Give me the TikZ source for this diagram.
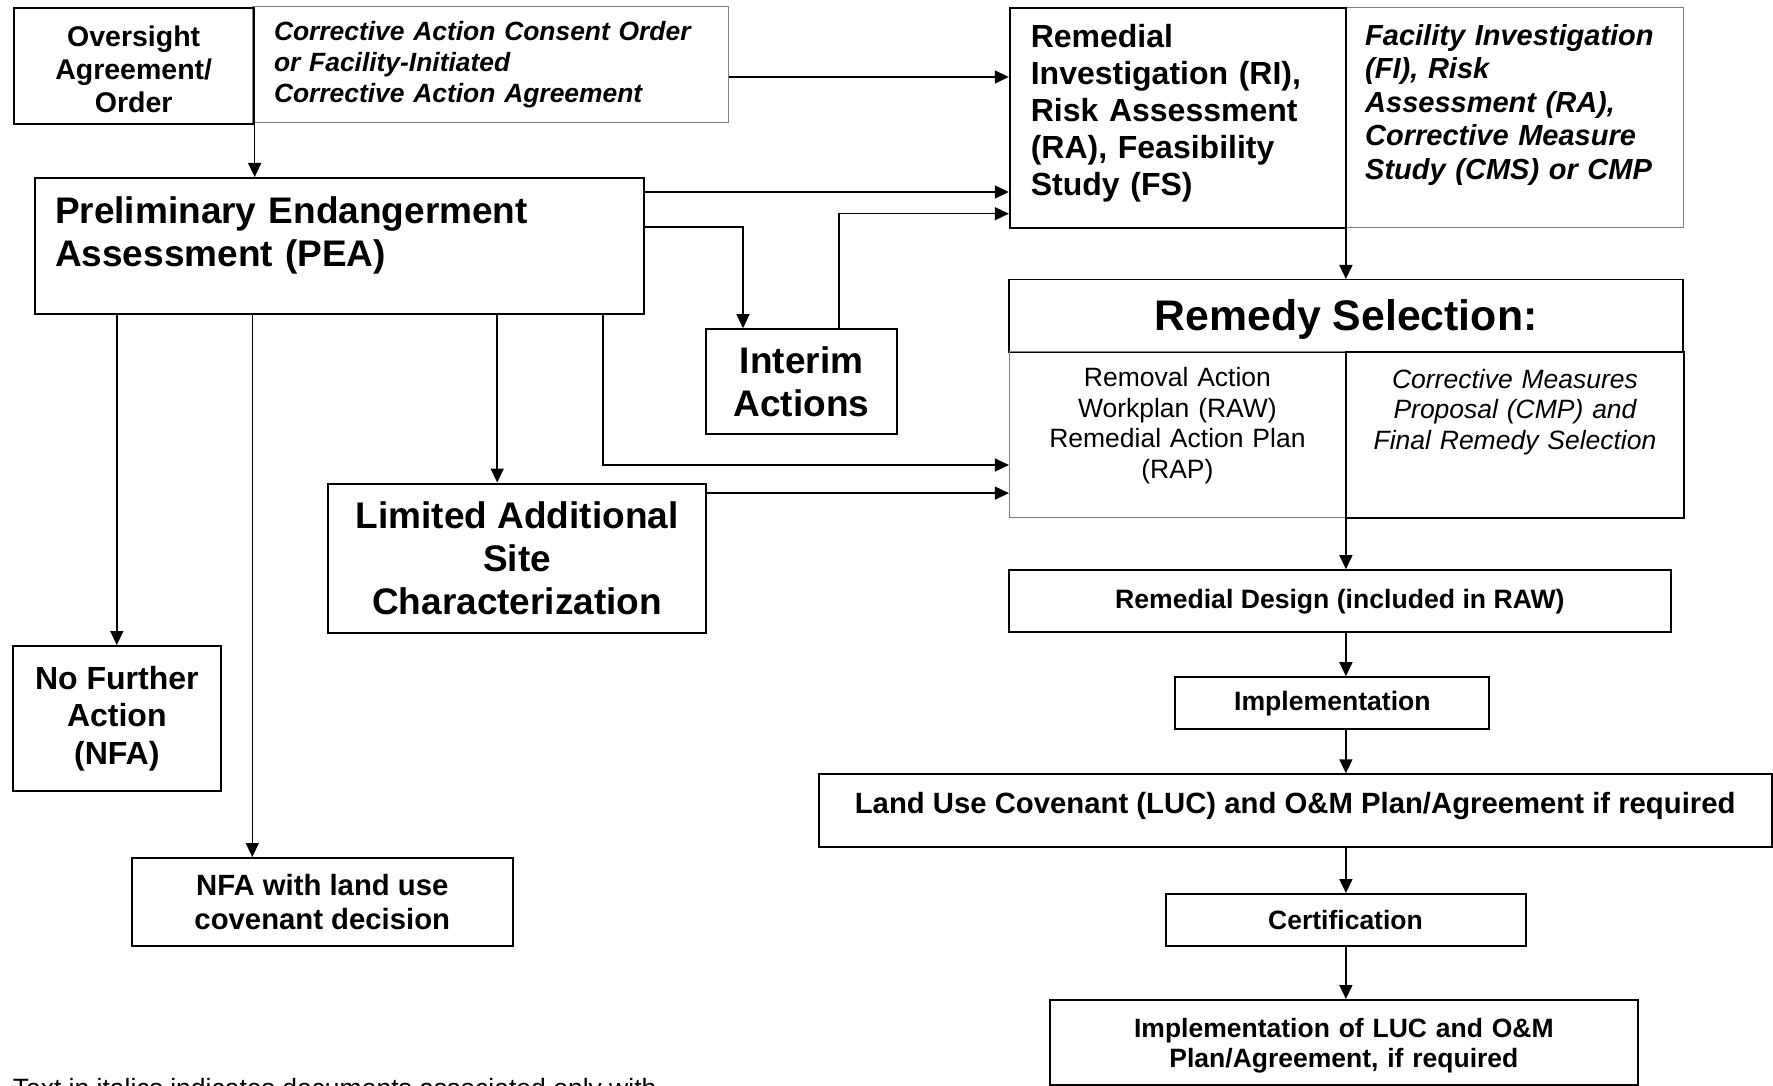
\documentclass[tikz,border=0pt]{standalone}
\usepackage{fontspec}
\setmainfont{Liberation Sans}
\usetikzlibrary{arrows.meta}
\newcommand{\fsz}[2]{\fontsize{#1}{#2}\selectfont}

\tikzset{
  box/.style={draw, line width=2pt, inner sep=0pt, align=center},
  docbox/.style={draw=black!50, line width=1pt, inner sep=0pt},
  arr/.style={line width=1.5pt, -{Triangle[length=14pt,width=13pt]}},
}

\begin{document}
\begin{tikzpicture}[x=1pt, y=-1pt]
  \useasboundingbox[fill=white] (0,0) rectangle (1773,1086);

  % top row
  \node[docbox, minimum width=476pt, minimum height=116pt, text width=432pt, inner xsep=22pt, align=left, font=\bfseries\itshape\fsz{26.4}{31}] (order) at (490,65) {Corrective Action Consent Order\\or Facility-Initiated\\Corrective Action Agreement};
  \node[box, anchor=north west, text width=230pt, inner xsep=5pt, text height=39pt, text depth=77pt, font=\bfseries\fsz{28.5}{33}] (over) at (12.7,6.7) {Oversight\\Agreement/\\Order};

  \node[docbox, anchor=north west, text width=298pt, inner xsep=20pt, align=left, text height=38pt, text depth=182pt, font=\bfseries\itshape\fsz{29}{33.6}] (fi) at (1344.7,6.7) {Facility Investigation\\(FI), Risk\\Assessment (RA),\\Corrective Measure\\Study (CMS) or CMP};
  \node[box, anchor=north west, text width=294pt, inner xsep=21pt, align=left, text height=40pt, text depth=180pt, font=\bfseries\fsz{32}{37}] (ri) at (1008.8,6.7) {Remedial\\Investigation (RI),\\Risk Assessment\\(RA), Feasibility\\Study (FS)};

  \node[box, anchor=north west, text width=569pt, inner xsep=20pt, align=left, text height=46pt, text depth=90pt, font=\bfseries\fsz{37}{43}] (pea) at (34,177) {Preliminary Endangerment\\Assessment (PEA)};

  % left branches
  \node[box, minimum width=191pt, minimum height=105pt, font=\bfseries\fsz{37}{43}] (interim) at (801.5,381.7) {Interim\\Actions};
  \node[box, minimum width=378pt, minimum height=149pt, font=\bfseries\fsz{37}{43}] (lasc) at (517.2,558) {Limited Additional\\Site\\Characterization};
  \node[box, minimum width=208pt, minimum height=145pt, font=\bfseries\fsz{32}{37.3}] (nfa) at (116.8,718.5) {No Further\\Action\\(NFA)};
  \node[box, minimum width=381pt, minimum height=88pt, font=\bfseries\fsz{29.3}{34}] (nfaluc) at (322.3,902) {NFA with land use\\covenant decision};

  % remedy selection
  \node[box, line width=1.5pt, anchor=north, minimum width=674pt, text height=50.5pt, text depth=21.5pt, font=\bfseries\fsz{42.8}{48}] (rs) at (1346,279) {Remedy Selection:};
  \node[docbox, anchor=north west, text width=300pt, inner xsep=18pt, align=center, text height=35pt, text depth=130.7pt, font=\fsz{26.5}{30.5}] (rsl) at (1008.9,351) {Removal Action\\Workplan (RAW)\\Remedial Action Plan\\(RAP)};
  \node[box, anchor=north west, text width=302pt, inner xsep=18pt, text height=36pt, text depth=129.7pt, font=\itshape\fsz{26.5}{30.5}] (rsr) at (1345,351) {Corrective Measures\\Proposal (CMP) and\\Final Remedy Selection};

  % right column
  \node[box, minimum width=662pt, minimum height=62pt, font=\bfseries\fsz{26.6}{30.6}] (rd) at (1339.8,601.2) {Remedial Design (included in RAW)};
  \node[box, minimum width=314pt, minimum height=52pt, font=\bfseries\fsz{26.6}{30.6}] (impl) at (1332.4,703.2) {Implementation};
  \node[box, anchor=north, minimum width=953pt, text height=38.7pt, text depth=34pt, font=\bfseries\fsz{29.3}{34}] (luc) at (1295.2,773.3) {Land Use Covenant (LUC) and O\&M Plan/Agreement if required};
  \node[box, minimum width=360pt, minimum height=52pt, font=\bfseries\fsz{26.5}{30.5}] (cert) at (1345.5,920) {Certification};
  \node[box, anchor=north, text width=560pt, inner xsep=14pt, text height=37pt, text depth=48pt, font=\bfseries\fsz{26.5}{30.5}] (implluc) at (1343.9,999) {Implementation of LUC and O\&M\\Plan/Agreement, if required};

  \node[anchor=base west, inner sep=0pt, font=\fsz{26.5}{30.5}] (note) at (12.6,1097) {Text in italics indicates documents associated only with};

  % connectors
  \draw[arr] (over.south east) -- (over.south east |- pea.north);
  \draw[arr] ([yshift=-12pt]order.east) -- ([yshift=-12pt]order.east -| ri.west);
  \draw[arr] ([yshift=-15pt]pea.north east) -- ([yshift=-15pt]pea.north east -| ri.west);
  \draw[arr] ([yshift=-50pt]pea.north east) -| ([xshift=-58.5pt]interim.north);
  \draw[arr] ([xshift=37.5pt]interim.north) |- ([yshift=15pt]ri.south west);

  \coordinate (luctrunk) at ([xshift=-70pt]nfaluc.north);
  \coordinate (lasctrunk) at ([xshift=-20pt]lasc.north);
  \draw[arr] (pea.south -| nfa.north) -- (nfa.north);
  \draw[arr] (pea.south -| luctrunk) -- (luctrunk);
  \draw[arr] (pea.south -| lasctrunk) -- (lasctrunk);
  \draw[arr] ([xshift=-42pt]pea.south east) |- ([yshift=52.7pt]rsl.south west);
  \draw[arr] ([yshift=-10.6pt]lasc.north east) -- ([yshift=-10.6pt]lasc.north east -| rsl.west);

  \coordinate (spine) at (rsl.south east);
  \foreach \a/\b in {ri/rs, rsl/rd, rd/impl, impl/luc, luc/cert, cert/implluc}
    \draw[arr] (spine |- \a.south) -- (spine |- \b.north);
\end{tikzpicture}
\end{document}
